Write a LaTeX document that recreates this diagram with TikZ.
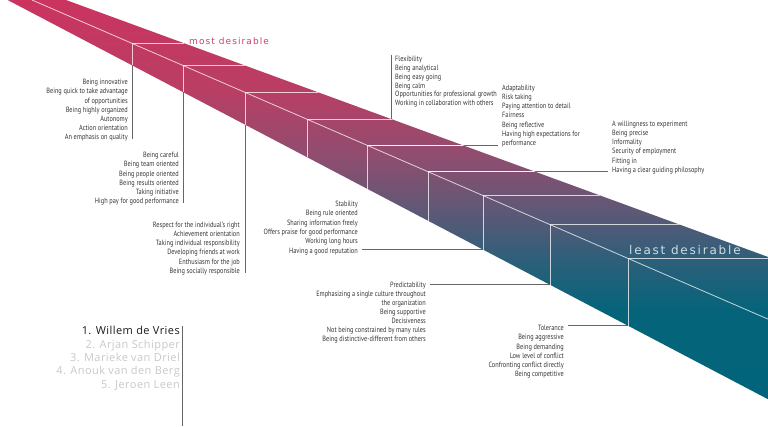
\documentclass[tikz,border=0pt]{standalone}
\usepackage{fontspec}
\setmainfont{PT Sans}
\newfontfamily\listfont[FakeStretch=0.83]{PT Sans}
\newfontfamily\namefont[LetterSpace=4]{Open Sans}
\newfontfamily\tagfont[LetterSpace=12]{DejaVu Sans}
\newfontfamily\tagfontb[LetterSpace=15]{DejaVu Sans}
\definecolor{c0}{RGB}{202,52,95}
\definecolor{c1}{RGB}{185,62,100}
\definecolor{c2}{RGB}{140,78,112}
\definecolor{c3}{RGB}{95,88,118}
\definecolor{c4}{RGB}{45,95,122}
\definecolor{c5}{RGB}{5,100,122}
\definecolor{c6}{RGB}{0,100,122}
\definecolor{mostcol}{RGB}{200,66,108}
\definecolor{leastcol}{RGB}{205,222,228}
\definecolor{namegray}{RGB}{200,200,200}
\pgfdeclareverticalshading{bandshade}{100bp}{color(0bp)=(c6); color(25bp)=(c6); color(38.6bp)=(c5); color(44.5bp)=(c4); color(50.4bp)=(c3); color(56.2bp)=(c2); color(64.4bp)=(c1); color(75bp)=(c0); color(100bp)=(c0)}
\begin{document}
\begin{tikzpicture}[x=1pt,y=-1pt,
  listtxt/.style={font=\listfont\fontsize{7.6}{9}\selectfont, text=black!80, inner sep=0pt},
  listR/.style={listtxt, anchor=base east},
  listL/.style={listtxt, anchor=base west},
  nametxt/.style={font=\namefont\fontsize{11}{13}\selectfont, inner sep=0pt, anchor=base east},
  inband/.style={draw=white, draw opacity=0.75, line width=0.8pt},
  leader/.style={draw=black!60, line width=0.7pt}]
\useasboundingbox (0,0) rectangle (768,426);
% step points on the light diagonal
\coordinate (D0) at (32,0);
\coordinate (D1) at (768,319.1);
\coordinate (P1) at (132,43.35);
\coordinate (P2) at (183,65.46);
\coordinate (P3) at (245,92.34);
\coordinate (P4) at (307,119.21);
\coordinate (P5) at (367,145.22);
\coordinate (P6) at (428,171.67);
\coordinate (P7) at (483,195.51);
\coordinate (P8) at (550,224.55);
\coordinate (P9) at (628,258.37);
% top edge ends
\coordinate (T1) at (184.4,43.35);
\coordinate (T2) at (244.9,65.46);
\coordinate (T3) at (318.3,92.34);
\coordinate (T4) at (391.7,119.21);
\coordinate (T5) at (462.8,145.22);
\coordinate (T6) at (535.0,171.67);
\coordinate (T7) at (600.2,195.51);
\coordinate (T8) at (679.5,224.55);
\coordinate (T9) at (770,258.37);
% bottom edge ends
\coordinate (B1) at (132,65.3);
\coordinate (B2) at (183,92.1);
\coordinate (B3) at (245,124.6);
\coordinate (B4) at (307,157.2);
\coordinate (B5) at (367,188.7);
\coordinate (B6) at (428,220.7);
\coordinate (B7) at (483,249.6);
\coordinate (B8) at (550,284.75);
\coordinate (B9) at (628,325.7);
% leader ends
\coordinate (E1) at (132,139);
\coordinate (E2) at (183,203);
\coordinate (E3) at (245,273);
\coordinate (E4) at (391.7,55);
\coordinate (E5) at (498,145.22);
\coordinate (E6) at (608,171.67);
\coordinate (E7) at (362,249.6);
\coordinate (E8) at (430,284.75);
\coordinate (E9) at (568,325.7);
% band corners
\coordinate (btl) at (52.3,-5);
\coordinate (btr) at (775,259.5);
\coordinate (bbr) at (775,402.9);
\coordinate (bbl) at (-1.9,-5);
% leader lines (grey)
\draw[leader] (P1) -- (E1);
\draw[leader] (P2) -- (E2);
\draw[leader] (P3) -- (E3);
\draw[leader] (P4) -- (T4) -- (E4);
\draw[leader] (P5) -- (E5);
\draw[leader] (P6) -- (E6);
\draw[leader] (P7) -- (B7) -- (E7);
\draw[leader] (P8) -- (B8) -- (E8);
\draw[leader] (P9) -- (B9) -- (E9);
% band
\begin{scope}
\clip (btl) -- (btr) -- (bbr) -- (bbl) -- cycle;
\shade[shading=bandshade] (0,0) rectangle (768,426);
\draw[inband] (D0) -- (D1);
\foreach \k in {1,...,9}{
  \draw[inband] (T\k) -- (P\k) -- (B\k);
}
\draw[inband] (T4) -- (E4);
\draw[inband] (P5) -- (E5);
\draw[inband] (P6) -- (E6);
\end{scope}
% tags
\node[font=\tagfont\fontsize{9}{10}\selectfont, text=mostcol, inner sep=0pt, anchor=base west] (most) at (189,44) {most desirable};
\node[font=\tagfontb\fontsize{12}{13}\selectfont, text=leastcol, inner sep=0pt, anchor=base west] (least) at (629,254.5) {least desirable};
% lists
\foreach \t [count=\i] in {Being innovative, Being quick to take advantage, of opportunities, Being highly organized, Autonomy, Action orientation, An emphasis on quality}
  \node[listR] (La\i) at (128,{84.6+9.2*(\i-1)}) {\t};
\foreach \t [count=\i] in {Being careful, Being team oriented, Being people oriented, Being results oriented, Taking initiative, High pay for good performance}
  \node[listR] (Lb\i) at (179,{157.6+9.2*(\i-1)}) {\t};
\foreach \t [count=\i] in {Respect for the individual’s right, Achievement orientation, Taking individual responsibility, Developing friends at work, Enthusiasm for the job, Being socially responsible}
  \node[listR] (Lc\i) at (240,{227.6+9.1*(\i-1)}) {\t};
\foreach \t [count=\i] in {Flexibility, Being analytical, Being easy going, Being calm, Opportunities for professional growth, Working in collaboration with others}
  \node[listL] (Ld\i) at (395,{61.6+8.8*(\i-1)}) {\t};
\foreach \t [count=\i] in {Adaptability, Risk taking, Paying attention to detail, Fairness, Being reflective, Having high expectations for, performance}
  \node[listL] (Le\i) at (502,{90.6+9.1*(\i-1)}) {\t};
\foreach \t [count=\i] in {A willingness to experiment, Being precise, Informality, Security of employment, Fitting in, Having a clear guiding philosophy}
  \node[listL] (Lf\i) at (612,{126.6+9.1*(\i-1)}) {\t};
\foreach \t [count=\i] in {Stability, Being rule oriented, Sharing information freely, Offers praise for good performance, Working long hours, Having a good reputation}
  \node[listR] (Lg\i) at (358,{206.6+9.3*(\i-1)}) {\t};
\foreach \t [count=\i] in {Predictability, Emphasizing a single culture throughout, the organization, Being supportive, Decisiveness, Not being constrained by many rules, Being distinctive-different from others}
  \node[listR] (Lh\i) at (426,{287.6+9.0*(\i-1)}) {\t};
\foreach \t [count=\i] in {Tolerance, Being aggressive, Being demanding, Low level of conflict, Confronting conflict directly, Being competitive}
  \node[listR] (Li\i) at (564,{330.6+9.2*(\i-1)}) {\t};
% names
\coordinate (N0) at (182,326);
\coordinate (N1) at (182,426);
\draw[leader] (N0) -- (N1);
\node[nametxt, text=black!90] (n1) at (180,334.8) {1. Willem de Vries};
\node[nametxt, text=namegray] (n2) at (180,348.1) {2. Arjan Schipper};
\node[nametxt, text=namegray] (n3) at (180,361.4) {3. Marieke van Driel};
\node[nametxt, text=namegray] (n4) at (180,374.7) {4. Anouk van den Berg};
\node[nametxt, text=namegray] (n5) at (180,388) {5. Jeroen Leen};
\end{tikzpicture}
\end{document}
